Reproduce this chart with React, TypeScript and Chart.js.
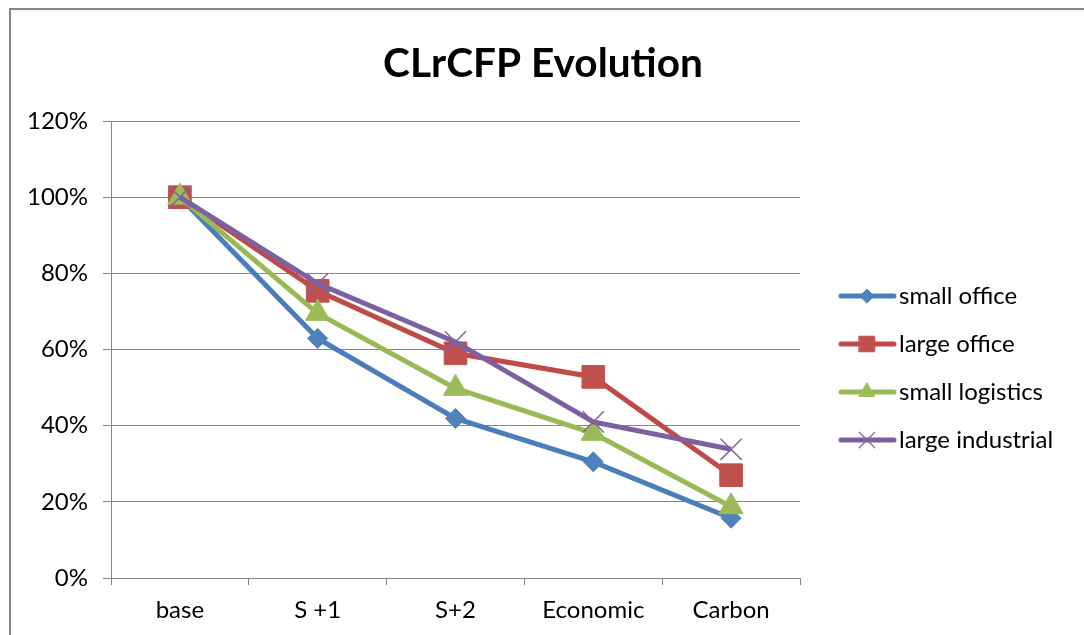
import React, { useEffect, useRef } from "react";
import { Chart, registerables } from "chart.js";
import { drawPoint } from "chart.js/helpers";

Chart.register(...registerables);

const TITLE = "CLrCFP Evolution";
const categories = ["base", "S +1", "S+2", "Economic", "Carbon"];
const yTicks = [0, 20, 40, 60, 80, 100, 120];

const seriesNames = ["small office", "large office", "small logistics", "large industrial"];
const smallOffice = [100, 62.9, 41.9, 30.5, 15.7];
const largeOffice = [100, 75.4, 59.0, 52.8, 27.0];
const smallLogistics = [100, 69.5, 49.8, 38.0, 18.7];
const largeIndustrial = [100, 77.3, 62.0, 41.0, 33.8];

const lineColors = ["#4A7EBB", "#BE4B48", "#98B954", "#7D60A0"];
const markerColors = ["#4F81BD", "#C0504D", "#9BBB59", "#8064A2"];
const pointStyles = ["rectRot", "rect", "triangle", "crossRot"];
const pointRadii = [10, 16, 14, 15];
const legendRadii = [7, 11, 9, 11];

const FONT = "Lato, 'Open Sans', sans-serif";
const TEXT_SIZE = 24;

const overlayPlugin = {
  id: "overlay",
  afterDraw(chart: any) {
    const ctx = chart.ctx;
    ctx.save();
    // Title
    ctx.font = `bold 44px ${FONT}`;
    const w = ctx.measureText(TITLE).width;
    const size = (44 * 320) / w;
    ctx.font = `bold ${size}px ${FONT}`;
    ctx.fillStyle = "#000";
    ctx.textAlign = "center";
    ctx.textBaseline = "alphabetic";
    ctx.fillText(TITLE, 543, 77);

    // Legend
    chart.data.datasets.forEach((ds: any, i: number) => {
      const y = 296 + i * 48;
      ctx.strokeStyle = ds.borderColor;
      ctx.lineWidth = 5;
      ctx.lineCap = "round";
      ctx.beginPath();
      ctx.moveTo(841, y);
      ctx.lineTo(894, y);
      ctx.stroke();
      ctx.fillStyle = ds.pointBackgroundColor;
      ctx.strokeStyle = ds.pointBorderColor;
      ctx.lineWidth = ds.pointStyle === "crossRot" ? 1.2 : 1;
      drawPoint(ctx, { pointStyle: ds.pointStyle, radius: legendRadii[i], rotation: 0, borderWidth: ctx.lineWidth }, 867, y);
      ctx.fillStyle = "#000";
      ctx.textAlign = "left";
      ctx.textBaseline = "middle";
      ctx.font = `${TEXT_SIZE}px ${FONT}`;
      ctx.fillText(ds.label, 899, y);
    });
    ctx.restore();
  },
};

export default function App() {
  const ref = useRef<HTMLCanvasElement>(null);
  useEffect(() => {
    if (!ref.current) return;
    const values = [smallOffice, largeOffice, smallLogistics, largeIndustrial];
    const chart = new Chart(ref.current, {
      type: "line",
      data: {
        labels: categories,
        datasets: values.map((v, i) => ({
          label: seriesNames[i],
          data: v,
          borderColor: lineColors[i],
          backgroundColor: markerColors[i],
          borderWidth: 5,
          pointStyle: pointStyles[i] as any,
          pointRadius: pointRadii[i],
          pointHoverRadius: pointRadii[i],
          pointBackgroundColor: markerColors[i],
          pointBorderColor: markerColors[i],
          pointBorderWidth: pointStyles[i] === "crossRot" ? 1.5 : 1,
          tension: 0,
          order: values.length - 1 - i,
          clip: false as any,
        })),
      },
      options: {
        animation: false,
        responsive: false,
        layout: { padding: { top: 121, right: 284, left: 0, bottom: 0 } },
        plugins: {
          legend: { display: false },
          title: { display: false },
          tooltip: { enabled: false },
        },
        scales: {
          x: {
            offset: true,
            afterFit: (s: any) => {
              s.height = 57;
            },
            grid: {
              display: true,
              offset: true,
              drawOnChartArea: false,
              drawTicks: true,
              tickLength: 7,
              color: "#868686",
            },
            border: { display: true, color: "#868686", width: 1 },
            ticks: {
              color: "#000",
              font: { family: FONT, size: TEXT_SIZE },
              padding: 11,
              maxRotation: 0,
            },
          },
          y: {
            min: 0,
            max: 120,
            afterFit: (s: any) => {
              s.width = 111;
            },
            afterBuildTicks: (s: any) => {
              s.ticks = yTicks.map((v) => ({ value: v }));
            },
            grid: {
              color: "#868686",
              lineWidth: 1,
              drawTicks: true,
              tickLength: 8,
            },
            border: { display: true, color: "#868686", width: 1 },
            ticks: {
              color: "#000",
              font: { family: FONT, size: TEXT_SIZE },
              padding: 15,
              callback: (v: any) => `${v}%`,
            },
          },
        },
      },
      plugins: [overlayPlugin],
    });
    return () => chart.destroy();
  }, []);

  return (
    <div
      style={{
        position: "absolute",
        left: 0,
        top: 0,
        width: 1084,
        height: 635,
        overflow: "hidden",
        background: "#fff",
      }}
    >
      <div
        style={{
          position: "absolute",
          left: 9,
          top: 8,
          width: 1200,
          height: 800,
          borderLeft: "2px solid #878787",
          borderTop: "2px solid #878787",
        }}
      />
      <canvas
        ref={ref}
        width={1084}
        height={635}
        style={{ position: "absolute", left: 0, top: 0, width: 1084, height: 635 }}
      />
    </div>
  );
}
